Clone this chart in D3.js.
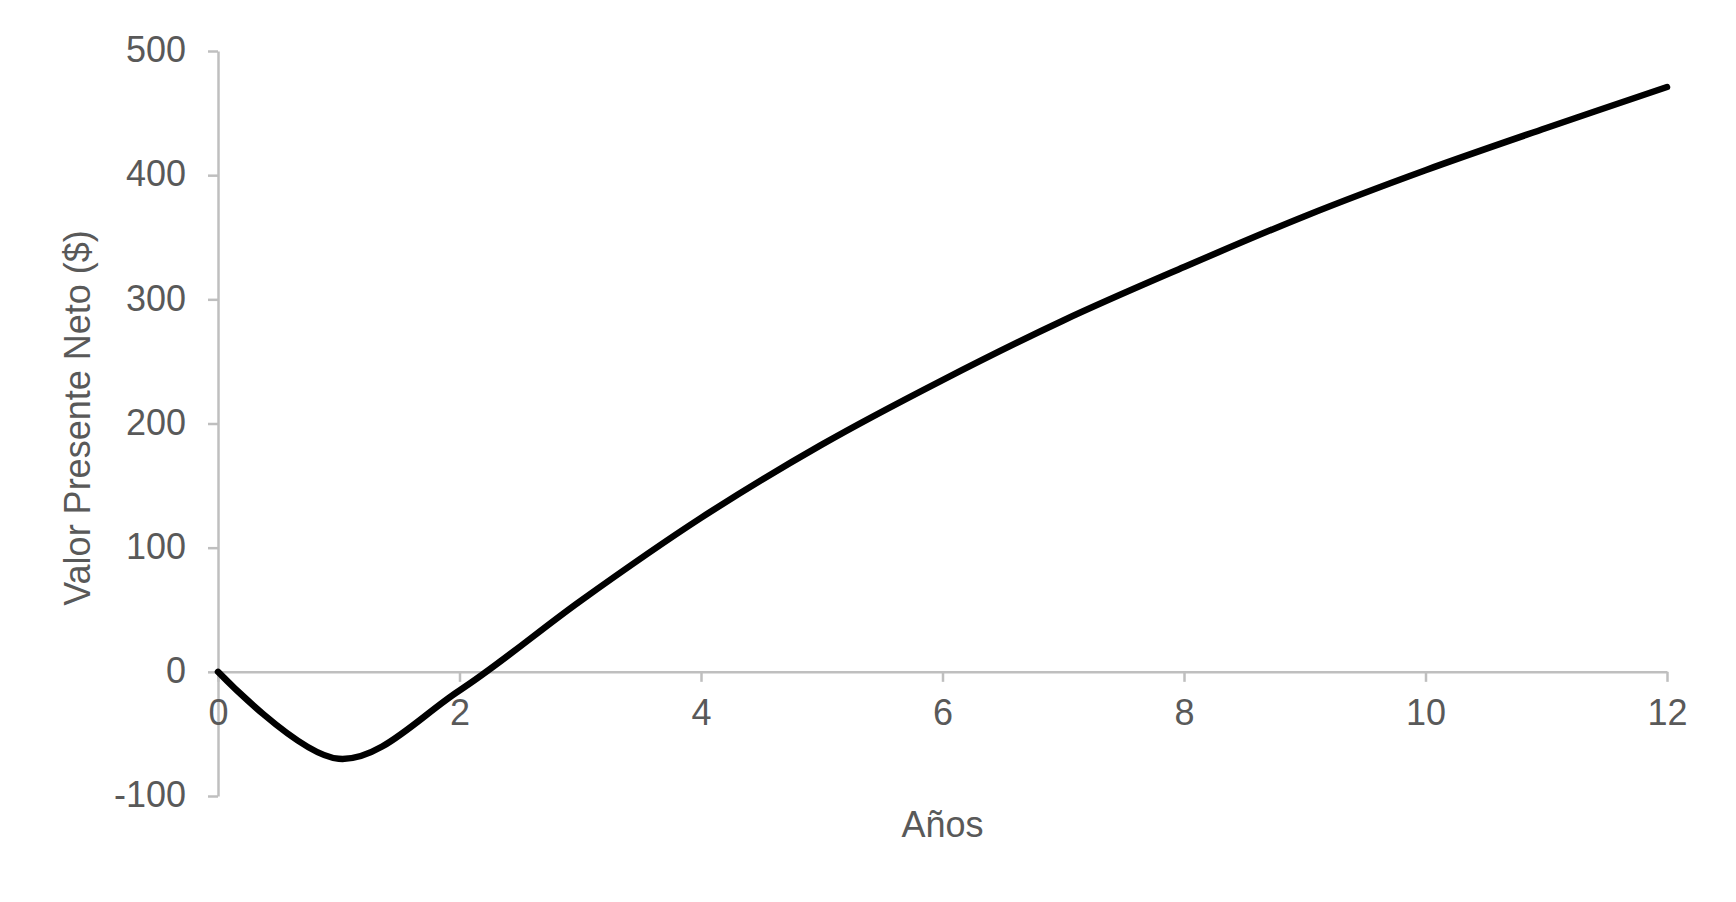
<!DOCTYPE html>
<html>
<head>
<meta charset="utf-8">
<script src="https://cdn.jsdelivr.net/npm/d3@7"></script>
<style>
  html, body { margin: 0; padding: 0; background: #fff; }
  text { font-family: "Liberation Sans", Arial, sans-serif; fill: #595959; }
</style>
</head>
<body>
<div class="chart-holder"></div>
<script>
// data
const years = [0, 1, 2, 3, 4, 5, 6, 7, 8, 9, 10, 11, 12];
const npv = [0, -70, -15, 57, 124, 183, 235, 283, 326, 367, 404, 438, 471];
const xTicks = [0, 2, 4, 6, 8, 10, 12];
const yTicks = [-100, 0, 100, 200, 300, 400, 500];
const xTitle = "Años";
const yTitle = "Valor Presente Neto ($)";

const width = 1736;
const height = 902;
const axisColor = "#bfbfbf";

const svg = d3
  .select(".chart-holder")
  .append("svg")
  .attr("width", width)
  .attr("height", height);

const x = d3.scaleLinear().domain([0, 12]).range([218, 1667]);
const y = d3.scaleLinear().domain([-100, 500]).range([796, 51]);

// y axis (plain hyphen for negatives, like the original)
const yAxis = svg.append("g")
  .attr("transform", `translate(${x(0)},0)`)
  .call(d3.axisLeft(y).tickValues(yTicks).tickFormat(d => String(d))
    .tickSize(10).tickSizeOuter(0).tickPadding(22));
yAxis.select(".domain").attr("stroke", axisColor).attr("stroke-width", 2.5);
yAxis.selectAll(".tick line").attr("stroke", axisColor).attr("stroke-width", 2.5);
yAxis.selectAll(".tick text")
  .attr("font-size", 36)
  .attr("dy", "0.3em")
  .style("fill", "#595959");

// x axis along zero
const xAxis = svg.append("g")
  .attr("transform", `translate(0,${y(0)})`)
  .call(d3.axisBottom(x).tickValues(xTicks).tickFormat(d => String(d))
    .tickSize(10).tickSizeOuter(0).tickPadding(18));
xAxis.select(".domain").attr("stroke", axisColor).attr("stroke-width", 2.5);
xAxis.selectAll(".tick line").attr("stroke", axisColor).attr("stroke-width", 2.5);
xAxis.selectAll(".tick text")
  .attr("font-size", 36)
  .style("fill", "#595959");

// titles
svg.append("text")
  .attr("x", (x(0) + x(12)) / 2)
  .attr("y", 837)
  .attr("text-anchor", "middle")
  .attr("font-size", 36)
  .text(xTitle);

svg.append("text")
  .attr("transform", `translate(90,418) rotate(-90)`)
  .attr("text-anchor", "middle")
  .attr("font-size", 36)
  .text(yTitle);

// smoothed line like the spreadsheet
const line = d3.line()
  .x((d, i) => x(years[i]))
  .y(d => y(d))
  .curve(d3.curveCardinal.tension(0));

svg.append("path")
  .datum(npv)
  .attr("d", line)
  .attr("fill", "none")
  .attr("stroke", "#000")
  .attr("stroke-width", 6.5)
  .attr("stroke-linecap", "round")
  .attr("stroke-linejoin", "round");
</script>
</body>
</html>
